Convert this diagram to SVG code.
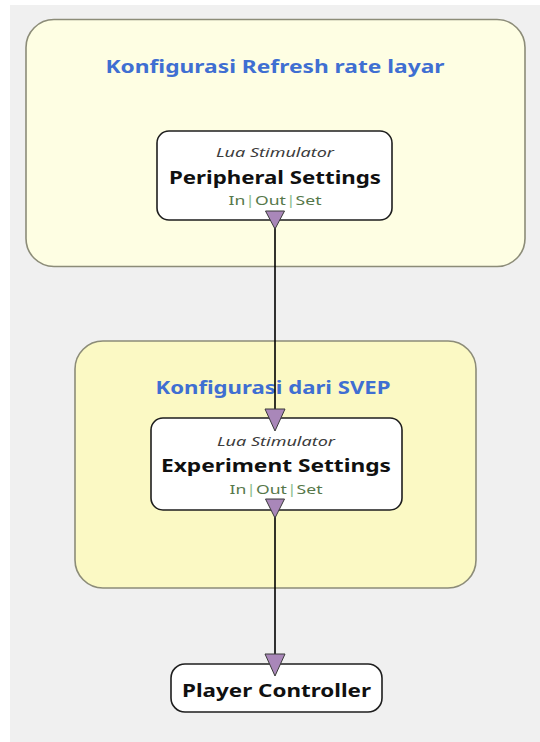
<svg xmlns="http://www.w3.org/2000/svg" width="540" height="742" viewBox="0 0 540 742">
  <style>
    .box { fill: #ffffff; stroke: #1e1e1e; stroke-width: 1.6; }
    .grp-title { font-family: "Noto Sans", "DejaVu Sans", sans-serif; font-weight: bold; font-size: 18px; fill: #3f6fd2; text-anchor: middle; }
    .kind { font-family: "Noto Sans", "DejaVu Sans", sans-serif; font-style: italic; font-size: 13px; fill: #3c3c3c; text-anchor: middle; }
    .name { font-family: "Noto Sans", "DejaVu Sans", sans-serif; font-weight: bold; font-size: 18px; fill: #101010; text-anchor: middle; }
    .io { font-family: "Noto Sans", "DejaVu Sans", sans-serif; font-size: 13px; fill: #56784a; text-anchor: middle; }
    .sep { fill: #8cc08c; }
    .port { fill: #a987b9; stroke: #3a3a3a; stroke-width: 1; }
    .wire { stroke: #000000; stroke-width: 1.6; fill: none; }
  </style>

  <!-- canvas -->
  <rect x="0" y="0" width="540" height="742" fill="#ffffff"/>
  <rect x="10" y="5" width="530" height="737" fill="#f0f0f0"/>

  <!-- box groups -->
  <g id="group-refresh">
    <rect x="26" y="19.5" width="499" height="247" rx="28" ry="28" fill="#fefee3" stroke="#8c8c78" stroke-width="1.6"/>
    <text class="grp-title" x="275" y="73" textLength="339" lengthAdjust="spacingAndGlyphs">Konfigurasi Refresh rate layar</text>
  </g>

  <g id="group-svep">
    <rect x="75" y="341" width="401" height="247" rx="28" ry="28" fill="#fbf9c4" stroke="#8c8c78" stroke-width="1.6"/>
    <text class="grp-title" x="273" y="394" textLength="235" lengthAdjust="spacingAndGlyphs">Konfigurasi dari SVEP</text>
  </g>

  <!-- connectors -->
  <g id="connectors">
    <line class="wire" x1="275" y1="226" x2="275" y2="411"/>
    <line class="wire" x1="275" y1="516" x2="275" y2="656"/>
  </g>

  <!-- boxes -->
  <g id="peripheral-settings">
    <rect class="box" x="157" y="131" width="235" height="89" rx="12" ry="12"/>
    <text class="kind" x="275" y="157" textLength="118" lengthAdjust="spacingAndGlyphs">Lua Stimulator</text>
    <text class="name" x="275" y="184" textLength="212" lengthAdjust="spacingAndGlyphs">Peripheral Settings</text>
    <text class="io" x="275" y="205" textLength="93" lengthAdjust="spacingAndGlyphs">In<tspan class="sep">|</tspan>Out<tspan class="sep">|</tspan>Set</text>
    <polygon class="port" points="265.5,211 284.5,211 275,229"/>
  </g>

  <g id="experiment-settings">
    <rect class="box" x="151" y="418" width="251" height="92" rx="12" ry="12"/>
    <polygon class="port" points="265,409 285,409 275,431"/>
    <text class="kind" x="276" y="446" textLength="118" lengthAdjust="spacingAndGlyphs">Lua Stimulator</text>
    <text class="name" x="276" y="472" textLength="230" lengthAdjust="spacingAndGlyphs">Experiment Settings</text>
    <text class="io" x="276" y="494" textLength="93" lengthAdjust="spacingAndGlyphs">In<tspan class="sep">|</tspan>Out<tspan class="sep">|</tspan>Set</text>
    <polygon class="port" points="265.5,499 284.5,499 275,518"/>
  </g>

  <g id="player-controller">
    <rect class="box" x="171" y="664" width="211" height="48" rx="14" ry="14"/>
    <polygon class="port" points="265,654 285,654 275,676"/>
    <text class="name" x="276.5" y="697" textLength="189" lengthAdjust="spacingAndGlyphs">Player Controller</text>
  </g>
</svg>
